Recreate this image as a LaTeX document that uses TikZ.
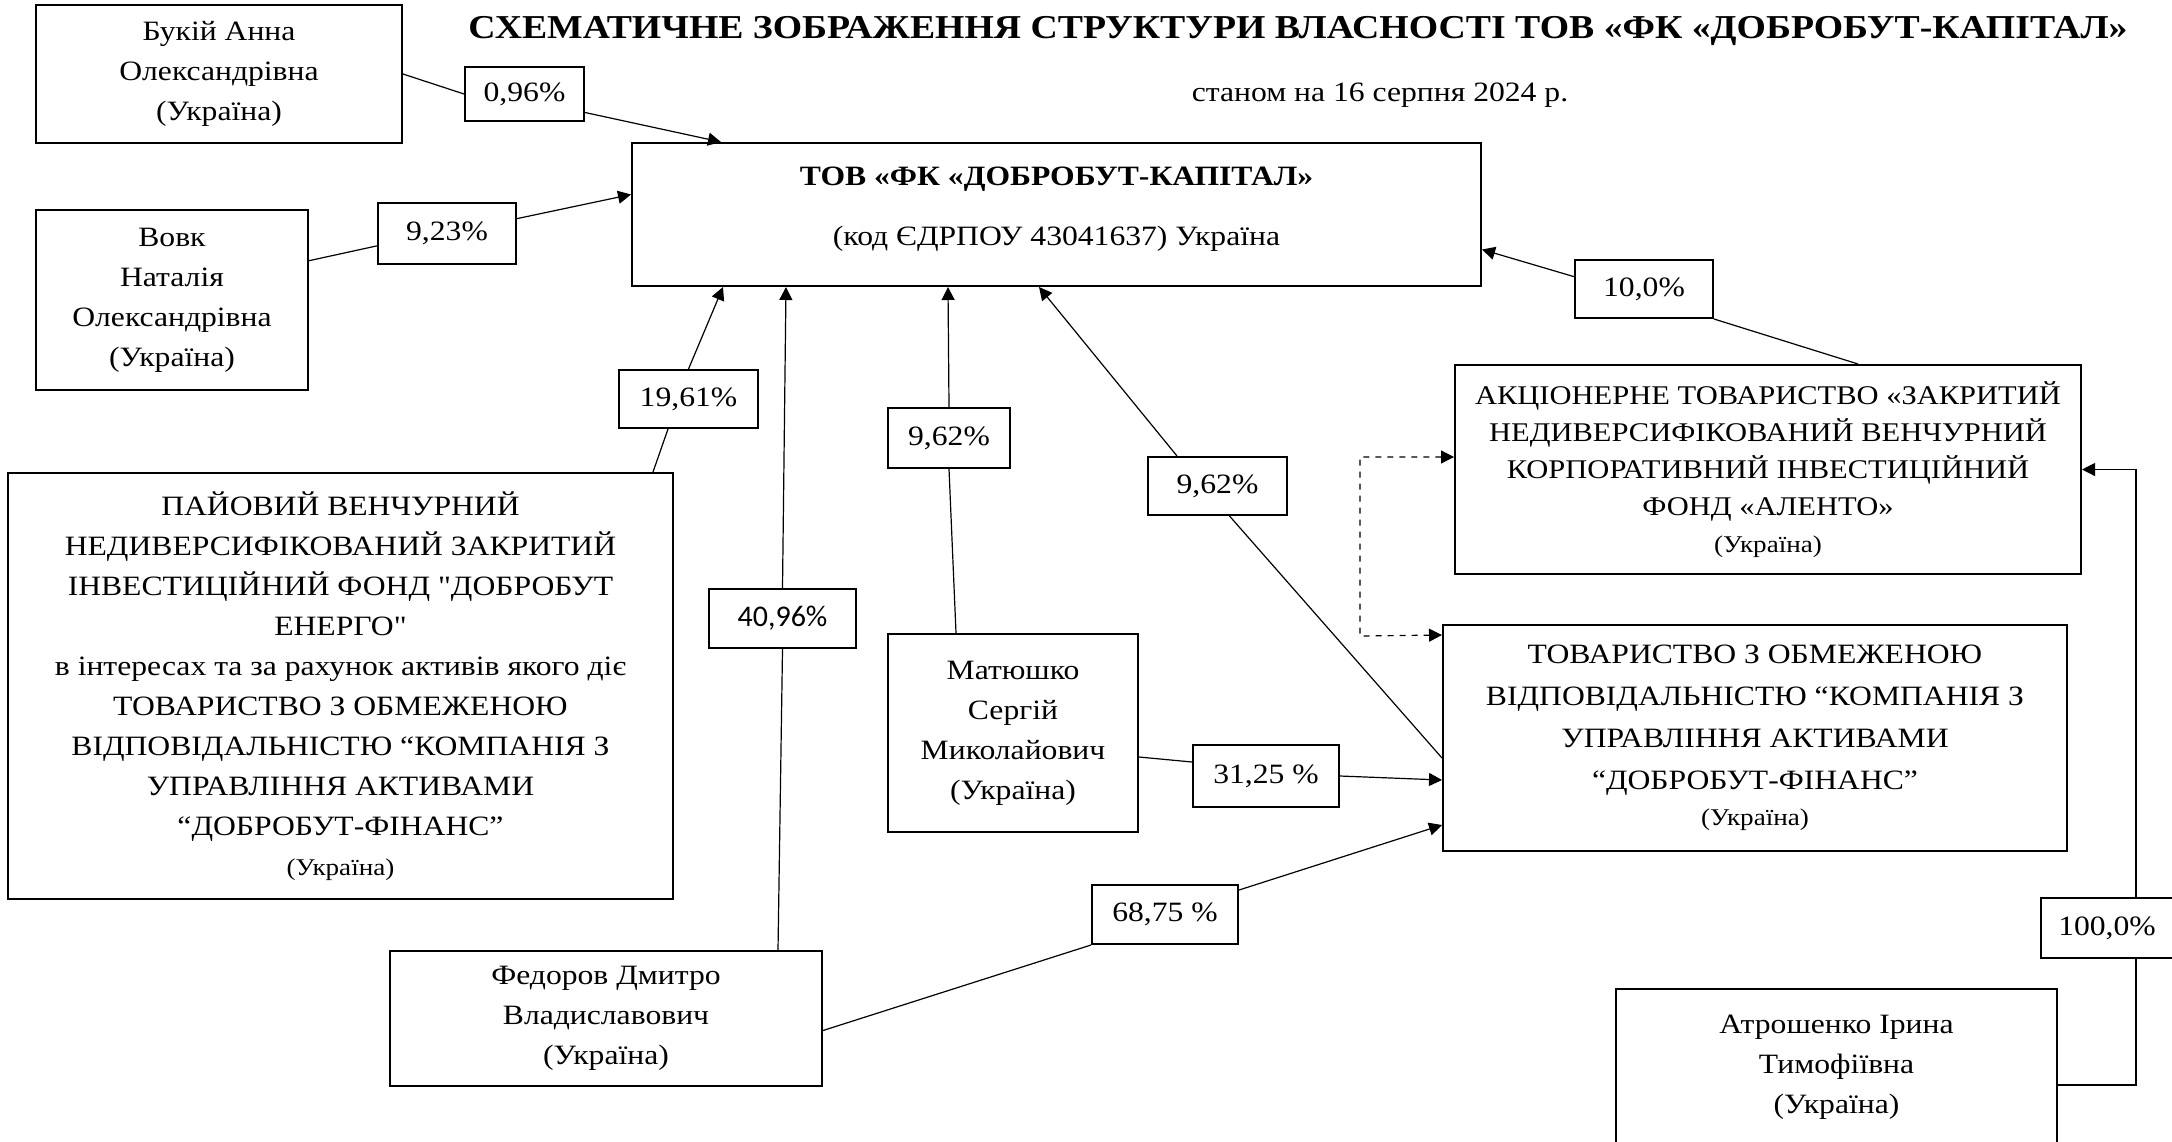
\documentclass[tikz,border=0pt]{standalone}
\usepackage{fontspec}
\setmainfont{Liberation Serif}[FakeStretch=1.13, Ligatures=TeXOff]
\newfontfamily\calibri{Carlito}
\usepackage{tikz}
\usetikzlibrary{arrows.meta, calc}

\begin{document}
\begin{tikzpicture}[
  x=0.5pt, y=-0.5pt,
  >={Triangle[length=6.5pt,width=6.5pt]},
  every node/.style={font=\fontsize{14}{20}\selectfont},
  box/.style={draw, line width=1pt, align=center, inner sep=0pt},
  pct/.style={draw, line width=1pt, align=center, inner sep=0pt},
  link/.style={line width=0.6pt}
]
\useasboundingbox (0,0) rectangle (2172,1141);
\clip (0,0) rectangle (2172,1141);

% Title
\node[font=\fontsize{16.7}{20}\selectfont\bfseries] (title) at (1298,31)
  {СХЕМАТИЧНЕ ЗОБРАЖЕННЯ СТРУКТУРИ ВЛАСНОСТІ ТОВ «ФК «ДОБРОБУТ-КАПІТАЛ»};
\node (date) at (1380,95) {станом на 16 серпня 2024 р.};

% Company
\node[box, minimum width=424.5pt, minimum height=71.5pt] (main) at (1056.5,214.5)
  {\textbf{ТОВ «ФК «ДОБРОБУТ-КАПІТАЛ»}\\[10pt](код ЄДРПОУ 43041637) Україна\\[-12pt]\mbox{}};

% Owners (left)
\node[box, minimum width=183pt, minimum height=69pt] (bukii) at (219,74)
  {Букій Анна\\Олександрівна\\(Україна)};
\node[box, minimum width=136pt, minimum height=90pt] (vovk) at (172,300)
  {Вовк\\Наталія\\Олександрівна\\(Україна)};
\node[box, minimum width=332.5pt, minimum height=213pt] (fund) at (340.5,686)
  {ПАЙОВИЙ ВЕНЧУРНИЙ\\НЕДИВЕРСИФІКОВАНИЙ ЗАКРИТИЙ\\ІНВЕСТИЦІЙНИЙ ФОНД "ДОБРОБУТ\\ЕНЕРГО"\\
   в інтересах та за рахунок активів якого діє\\ТОВАРИСТВО З ОБМЕЖЕНОЮ\\
   ВІДПОВІДАЛЬНІСТЮ “КОМПАНІЯ З\\УПРАВЛІННЯ АКТИВАМИ\\“ДОБРОБУТ-ФІНАНС”\\
   {\fontsize{12}{14}\selectfont (Україна)}};
\node[box, minimum width=125pt, minimum height=99pt] (mat) at (1013,733)
  {Матюшко\\Сергій\\Миколайович\\(Україна)};
\node[box, minimum width=216pt, minimum height=67.5pt] (fed) at (606,1018.5)
  {Федоров Дмитро\\Владиславович\\(Україна)};

% Owners (right)
\node[box, minimum width=313pt, minimum height=104.5pt, font=\fontsize{13.5}{18.5}\selectfont] (alento) at (1768,469.5)
  {АКЦІОНЕРНЕ ТОВАРИСТВО «ЗАКРИТИЙ\\НЕДИВЕРСИФІКОВАНИЙ ВЕНЧУРНИЙ\\
   КОРПОРАТИВНИЙ ІНВЕСТИЦІЙНИЙ\\ФОНД «АЛЕНТО»\\{\fontsize{12}{14}\selectfont (Україна)}};
\node[box, minimum width=312pt, minimum height=113pt, font=\fontsize{14}{21}\selectfont] (tov) at (1755,738)
  {ТОВАРИСТВО З ОБМЕЖЕНОЮ\\ВІДПОВІДАЛЬНІСТЮ “КОМПАНІЯ З\\УПРАВЛІННЯ АКТИВАМИ\\
   “ДОБРОБУТ-ФІНАНС”\\[-3pt]{\fontsize{12}{14}\selectfont (Україна)}};
\node[box, minimum width=220.5pt, minimum height=78pt] (atr) at (1836.5,1067)
  {Атрошенко Ірина\\Тимофіївна\\(Україна)};

% Shares
\node[pct, minimum width=59.5pt, minimum height=27pt] (p096) at (524.5,94) {0,96\%};
\node[pct, minimum width=69pt, minimum height=30.5pt] (p923) at (447,233.5) {9,23\%};
\node[pct, minimum width=69.5pt, minimum height=29pt] (p1961) at (688.5,399) {19,61\%};
\node[pct, minimum width=73.5pt, minimum height=29.5pt, font=\fontsize{15}{18}\calibri] (p4096) at (782.5,618.5) {40,96\%};
\node[pct, minimum width=61pt, minimum height=30pt] (p962a) at (949,438) {9,62\%};
\node[pct, minimum width=69.5pt, minimum height=29pt] (p962b) at (1217.5,486) {9,62\%};
\node[pct, minimum width=73pt, minimum height=31pt] (p3125) at (1266,776) {31,25 \%};
\node[pct, minimum width=73pt, minimum height=29.5pt] (p6875) at (1165,914.5) {68,75 \%};
\node[pct, minimum width=69pt, minimum height=29pt] (p100b) at (1644,289) {10,0\%};
\node[pct, minimum width=66pt, minimum height=30pt] (p100) at (2107,928) {100,0\%};

% Links to the company
\draw[link] (bukii.east) -- (p096.west);
\draw[link, ->] (p096.-17) -- ($(main.north west)+(90,0)$);
\draw[link] (vovk.16) -- (p923.190);
\draw[link, ->] (p923.12) -- ($(main.west)+(0,-20)$);
\draw[link] ($(fund.north east)+(-21,0)$) -- ($(p1961.south west)+(50,0)$);
\draw[link, ->] (p1961.north) -- ($(main.south west)+(92,0)$);
\draw[link] ($(fed.north west)+(389,0)$) -- (p4096.south);
\draw[link, ->] (p4096.north) -- ($(main.south west)+(155,0)$);
\draw[link] ($(mat.north west)+(69,0)$) -- (p962a.south);
\draw[link, ->] (p962a.north) -- ($(main.south west)+(317,0)$);
\draw[link] ($(tov.west)+(0,20)$) -- ($(p962b.south)+(12,0)$);
\draw[link, ->] ($(p962b.north west)+(30,0)$) -- ($(main.south west)+(408,0)$);
\draw[link] ($(alento.north west)+(404,0)$) -- (p100b.south east);
\draw[link, ->] (p100b.170) -- ($(main.east)+(0,35)$);

% Links to the asset manager
\draw[link] ($(mat.east)+(0,24)$) -- ($(p3125.west)+(0,-14)$);
\draw[link, ->] (p3125.east) -- ($(tov.west)+(0,42)$);
\draw[link] ($(fed.east)+(0,12)$) -- (p6875.south west);
\draw[link, ->] ($(p6875.north east)+(0,6)$) -- ($(tov.south west)+(0,-27)$);

% Atroshenko -> Alento
\draw[link] ($(atr.east)+(0,18)$) -| ($(p100.south west)+(96,0)$);
\draw[link, ->] ($(p100.north west)+(96,0)$) |- (alento.east);

% Dashed fork
\coordinate (fork) at (1360,636);
\draw[link, dashed, <->] ($(alento.west)+(0,-12.5)$) -| (fork) -- ($(tov.north west)+(0,11)$);

\end{tikzpicture}
\end{document}
